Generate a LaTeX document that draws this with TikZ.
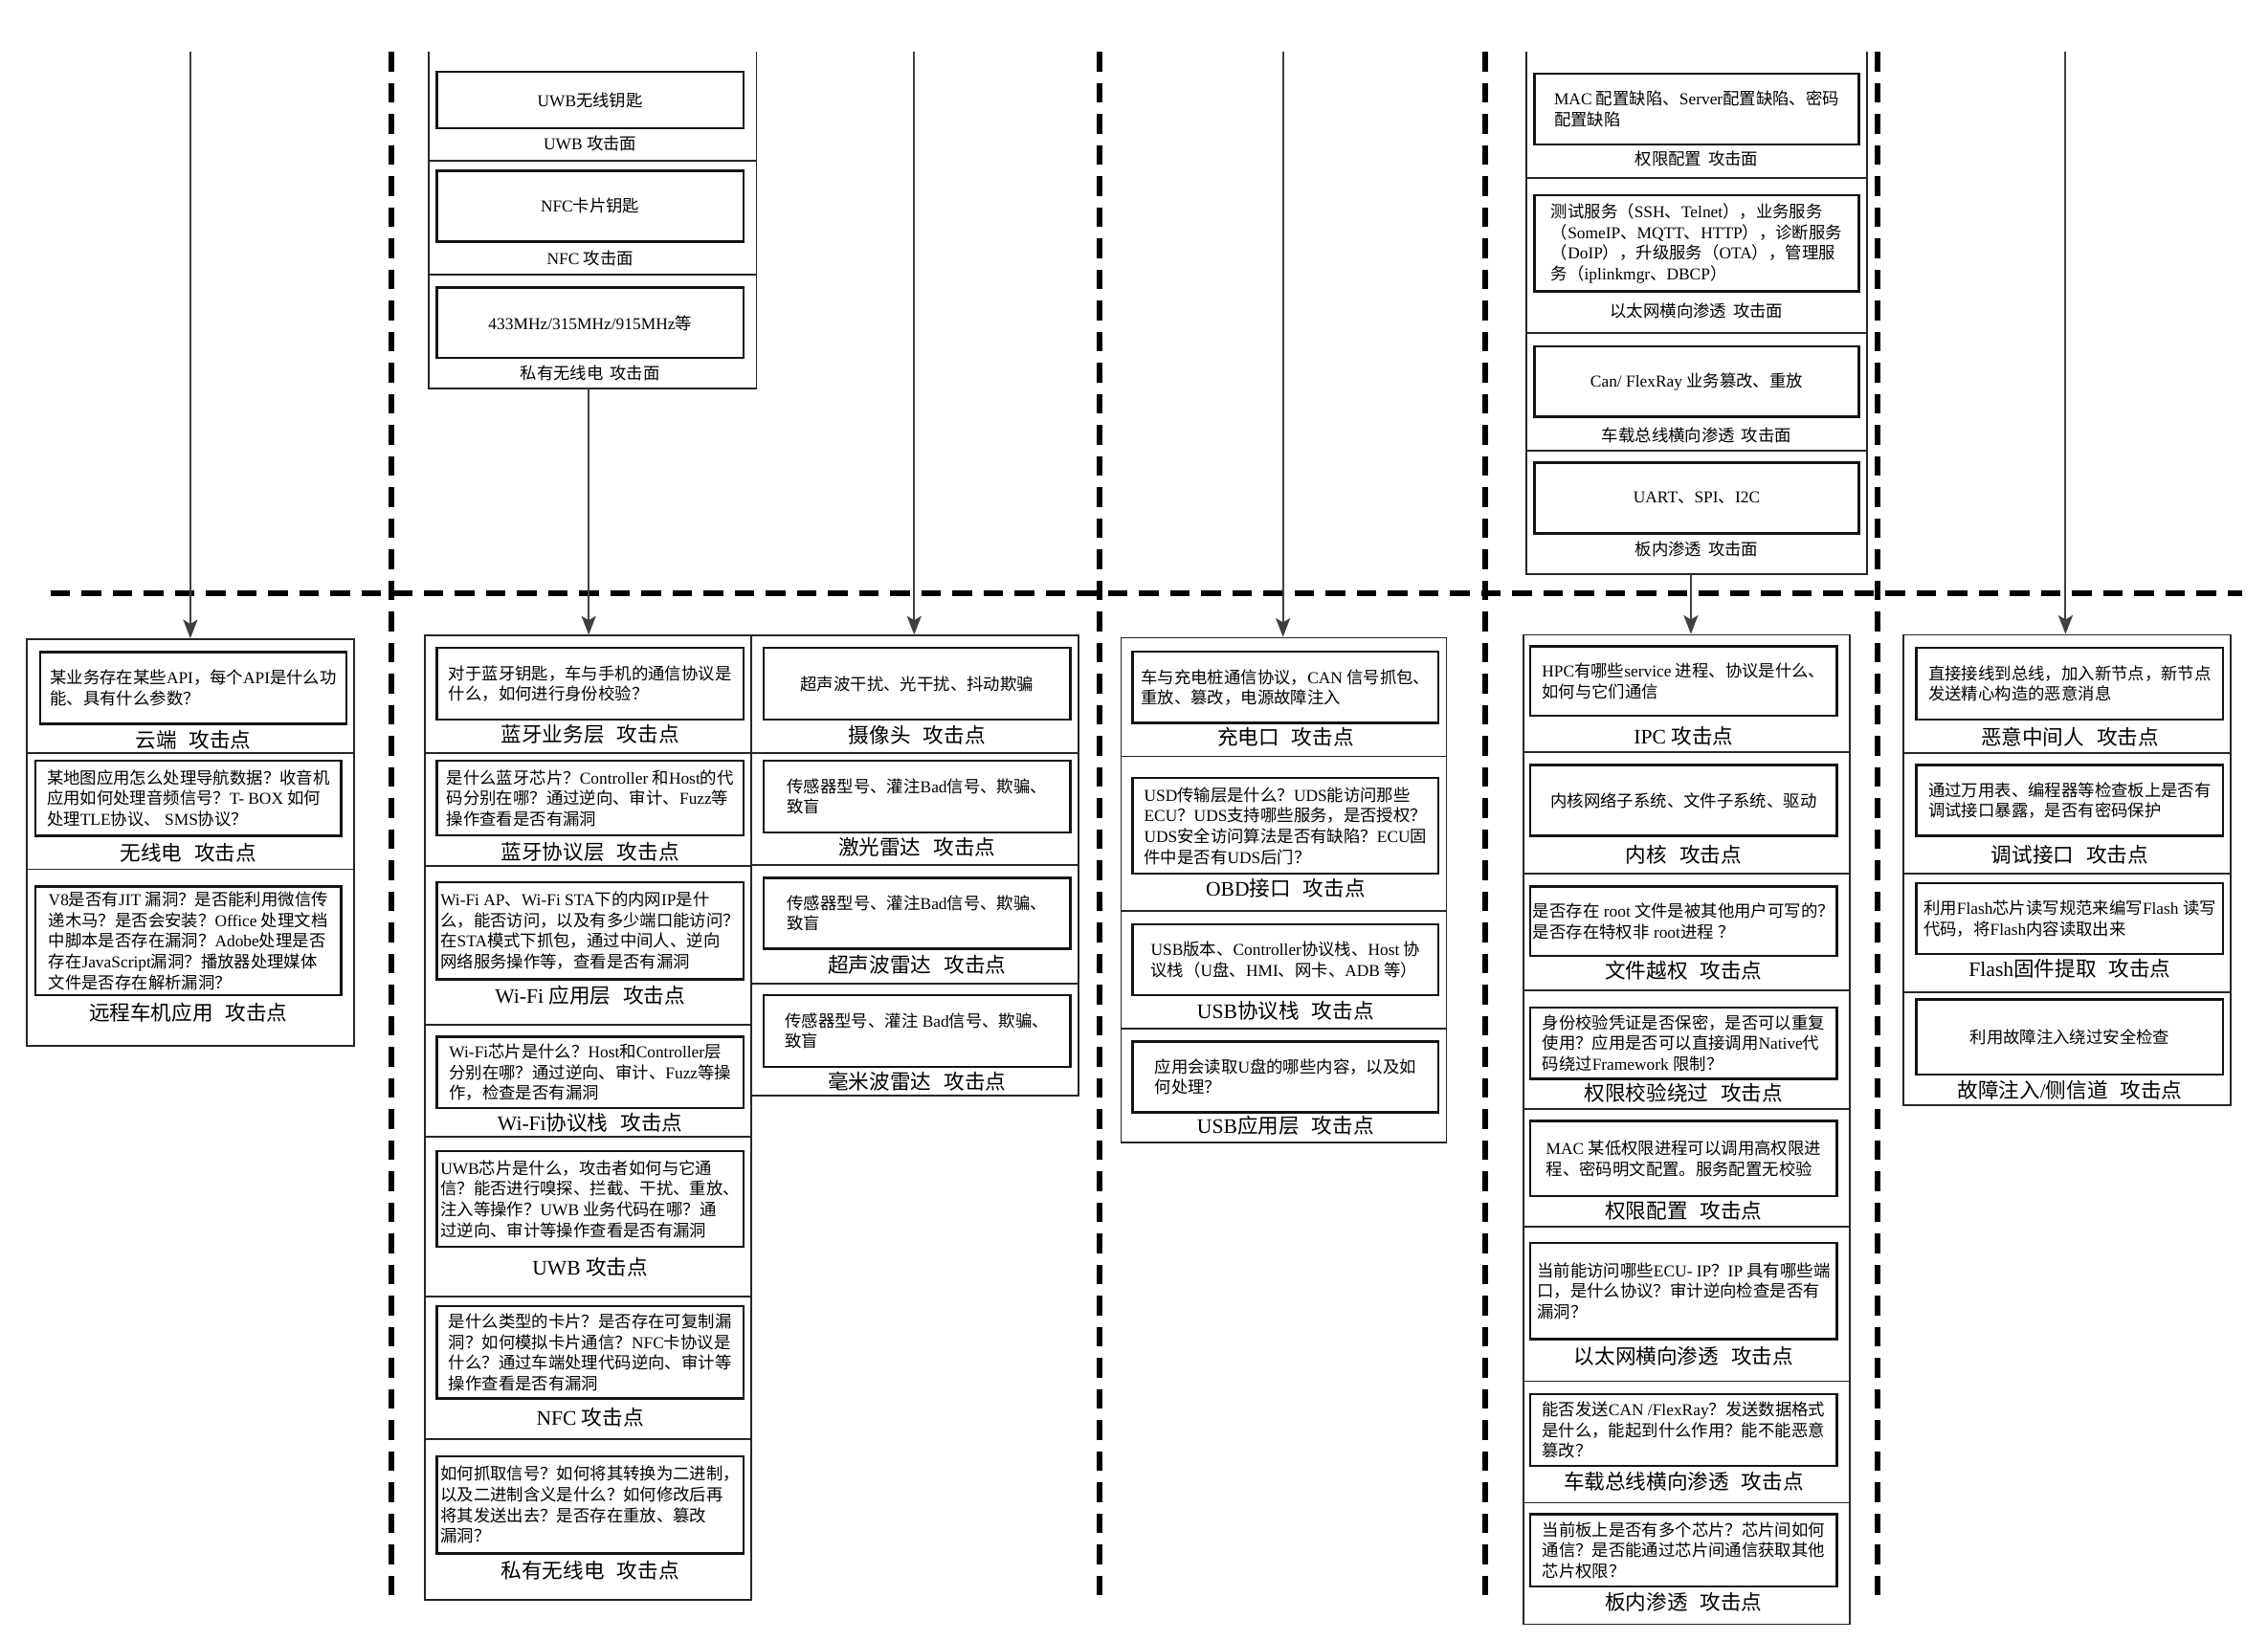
\documentclass[tikz,border=0pt]{standalone}
\usepackage{fontspec}
\setmainfont{Liberation Serif}
\newfontfamily\cjkfont{Noto Sans CJK SC}
\usetikzlibrary{arrows.meta}

% switch to the CJK family for ideographs and full-width punctuation
\XeTeXinterchartokenstate=1
\newXeTeXintercharclass\cjkcls
\newcount\cjkcnt
\def\cjkrange#1#2{\cjkcnt=#1\relax
  \loop\XeTeXcharclass\cjkcnt=\cjkcls\relax
  \ifnum\cjkcnt<#2\relax\advance\cjkcnt by 1\relax\repeat}
\cjkrange{"4E00}{"9FFF}
\cjkrange{"3000}{"303F}
\cjkrange{"FF00}{"FFEF}
\XeTeXinterchartoks 0 \cjkcls = {\cjkfont}
\XeTeXinterchartoks 4095 \cjkcls = {\cjkfont}
\XeTeXinterchartoks \cjkcls 0 = {\rmfamily}
\XeTeXinterchartoks \cjkcls 4095 = {\rmfamily}

\newcommand\lgap{\hspace{0.6em}}
\newcommand\sgap{\hspace{0.4em}}

\tikzset{
  outbx/.style={draw=black!85, line width=1.2pt, inner sep=0pt},
  inbx/.style={draw=black!92, line width=1.7pt, inner sep=1pt, align=left,
    font=\fontsize{11.5}{14.3}\selectfont},
  lbl/.style={inner sep=0pt, font=\fontsize{14.3}{17}\selectfont},
  tlbl/.style={inner sep=0pt, font=\fontsize{11.5}{14}\selectfont},
  sepl/.style={draw=black!85, line width=1.2pt},
  divl/.style={draw=black, line width=4pt, dash pattern=on 13.5pt off 8pt},
  arr/.style={draw=black!75, line width=1.3pt,
    -{Stealth[length=13pt,width=10pt,inset=3pt]}},
}

% outer frame: name, x1, x2, y1, y2
\newcommand\obox[5]{\node[outbx, minimum width={#3-#2}, minimum height={#5-#4}]
  (#1) at ({(#2+#3)/2},{(#4+#5)/2}) {};}
% row divider: x1, x2, y
\newcommand\cellsep[3]{\draw[sepl] (#1,#3) -- (#2,#3);}
% framed text with its caption: [caption style] name, x1, x2, y1, y2, caption y, text, caption
\newcommand\cell[9][lbl]{%
  \node[inbx, minimum width={#4-#3}, minimum height={#6-#5}]
    (#2) at ({(#3+#4)/2},{(#5+#6)/2}) {#8};
  \node[#1] (#2l) at ({(#3+#4)/2},#7) {#9};}

\begin{document}
\begin{tikzpicture}[x=1pt,y=-1pt]
\useasboundingbox (0,0) rectangle (1568,1134);

% dividers between the groups
\foreach \xx in {270.6,760,1027,1298} {\draw[divl] (\xx,36) -- (\xx,1108);}
\draw[divl] (35,410) -- (1550,410);

% ---------- upper panel: wireless keys ----------
\draw[sepl] (296.5,35.7) -- (296.5,268.6) -- (523,268.6) -- (523,35.7);
\cellsep{296.5}{523}{111}
\cellsep{296.5}{523}{190}
\cell[tlbl]{tA1}{302}{514}{49.6}{88.7}{99}{UWB无线钥匙}{UWB 攻击面}
\cell[tlbl]{tA2}{302}{514}{118}{167}{178.6}{NFC卡片钥匙}{NFC 攻击面}
\cell[tlbl]{tA3}{302}{514}{199}{247.5}{258}{433MHz/315MHz/915MHz等}{私有无线电\sgap 攻击面}

% ---------- upper panel: lateral movement ----------
\draw[sepl] (1055,35.7) -- (1055,397) -- (1291,397) -- (1291,35.7);
\cellsep{1055}{1291}{123}
\cellsep{1055}{1291}{230}
\cellsep{1055}{1291}{311.6}
\cell[tlbl]{tB1}{1061}{1285}{51}{100}{110}{\fontsize{11.5}{16.5}\selectfont MAC 配置缺陷、Server配置缺陷、密码\\配置缺陷}{权限配置\sgap 攻击面}
\cell[tlbl]{tB2}{1061}{1285}{135}{201.6}{215}{测试服务（SSH、Telnet），业务服务\\（SomeIP、MQTT、HTTP），诊断服务\\（DoIP），升级服务（OTA），管理服\\务（iplinkmgr、DBCP）}{以太网横向渗透\sgap 攻击面}
\cell[tlbl]{tB3}{1061}{1285}{239.5}{288}{301}{Can/ FlexRay 业务篡改、重放}{车载总线横向渗透\sgap 攻击面}
\cell[tlbl]{tB4}{1061}{1285}{320}{369}{380}{UART、SPI、I2C}{板内渗透\sgap 攻击面}

% ---------- column 1 ----------
\obox{c1}{18.5}{245}{442}{723}
\cellsep{18.5}{245}{520.6}
\cellsep{18.5}{245}{601}
\cell{c1a}{27.8}{239.5}{451}{500.6}{511.6}{某业务存在某些API，每个API是什么功\\能、具有什么参数？}{云端\lgap 攻击点}
\cell{c1b}{24.4}{236}{526}{578}{590}{\fontsize{11.5}{14}\selectfont 某地图应用怎么处理导航数据？收音机\\应用如何处理音频信号？T- BOX 如何\\处理TLE协议、 SMS协议？}{无线电\lgap 攻击点}
\cell{c1c}{24.4}{236}{613}{688}{700}{\fontsize{11.5}{13.6}\selectfont V8是否有JIT 漏洞？是否能利用微信传\\递木马？是否会安装？Office 处理文档\\中脚本是否存在漏洞？Adobe处理是否\\存在JavaScript漏洞？播放器处理媒体\\文件是否存在解析漏洞？}{远程车机应用\lgap 攻击点}

% ---------- column 2 ----------
\obox{c2}{294}{519.5}{439.5}{1106}
\foreach \yy in {520.7,599,708.6,786,896.5,995} {\cellsep{294}{519.5}{\yy}}
\cell{c2a}{302}{514}{448}{497.5}{508}{对于蓝牙钥匙，车与手机的通信协议是\\什么，如何进行身份校验？}{蓝牙业务层\lgap 攻击点}
\cell{c2b}{302}{514}{526}{577.7}{589}{是什么蓝牙芯片？Controller 和Host的代\\码分别在哪？通过逆向、审计、Fuzz等\\操作查看是否有漏洞}{蓝牙协议层\lgap 攻击点}
\cell{c2c}{302}{514}{610}{677}{688}{\fontsize{11.5}{13.7}\selectfont Wi-Fi AP、Wi-Fi STA下的内网IP是什\\么，能否访问，以及有多少端口能访问？\\在STA模式下抓包，通过中间人、逆向\\网络服务操作等，查看是否有漏洞}{Wi-Fi 应用层\lgap 攻击点}
\cell{c2d}{302}{514}{717}{766}{776}{\fontsize{11.5}{13.2}\selectfont Wi-Fi芯片是什么？Host和Controller层\\分别在哪？通过逆向、审计、Fuzz等操\\作，检查是否有漏洞}{Wi-Fi协议栈\lgap 攻击点}
\cell{c2e}{302}{514}{796}{862}{876}{UWB芯片是什么，攻击者如何与它通\\信？能否进行嗅探、拦截、干扰、重放、\\注入等操作？UWB 业务代码在哪？通\\过逆向、审计等操作查看是否有漏洞}{UWB 攻击点}
\cell{c2f}{302}{514}{903}{967}{980}{是什么类型的卡片？是否存在可复制漏\\洞？如何模拟卡片通信？NFC卡协议是\\什么？通过车端处理代码逆向、审计等\\操作查看是否有漏洞}{NFC 攻击点}
\cell{c2g}{302}{514}{1007}{1074}{1086}{如何抓取信号？如何将其转换为二进制，\\以及二进制含义是什么？如何修改后再\\将其发送出去？是否存在重放、篡改\\漏洞？}{私有无线电\lgap 攻击点}

% ---------- column 3 ----------
\obox{c3}{519.5}{745.6}{439.5}{757.5}
\foreach \yy in {520.5,598,680} {\cellsep{519.5}{745.6}{\yy}}
\cell{c3a}{528}{740}{448}{497.5}{508}{超声波干扰、光干扰、抖动欺骗}{摄像头\lgap 攻击点}
\cell{c3b}{528}{740}{526}{575.6}{585.5}{传感器型号、灌注Bad信号、欺骗、\\致盲}{激光雷达\lgap 攻击点}
\cell{c3c}{528}{740}{607}{656}{667}{传感器型号、灌注Bad信号、欺骗、\\致盲}{超声波雷达\lgap 攻击点}
\cell{c3d}{528}{740}{688}{737.6}{747.6}{传感器型号、灌注 Bad信号、欺骗、\\致盲}{毫米波雷达\lgap 攻击点}

% ---------- column 4 ----------
\obox{c4}{775}{1000}{441}{790}
\foreach \yy in {523,630,711} {\cellsep{775}{1000}{\yy}}
\cell{c4a}{783}{994.5}{450.6}{500}{509.5}{车与充电桩通信协议，CAN 信号抓包、\\重放、篡改，电源故障注入}{充电口\lgap 攻击点}
\cell{c4b}{783}{994.5}{538}{604}{614}{USD传输层是什么？UDS能访问那些\\ECU？UDS支持哪些服务，是否授权？\\UDS安全访问算法是否有缺陷？ECU固\\件中是否有UDS后门？}{OBD接口\lgap 攻击点}
\cell{c4c}{783}{994.5}{639}{688}{699}{USB版本、Controller协议栈、Host 协\\议栈（U盘、HMI、网卡、ADB 等）}{USB协议栈\lgap 攻击点}
\cell{c4d}{783}{994.5}{720}{769}{778}{应用会读取U盘的哪些内容，以及如\\何处理？}{USB应用层\lgap 攻击点}

% ---------- column 5 ----------
\obox{c5}{1053}{1279}{439}{1123}
\foreach \yy in {520,604,685,767,848,955,1039} {\cellsep{1053}{1279}{\yy}}
\cell{c5a}{1058}{1270}{447}{495}{509}{HPC有哪些service 进程、协议是什么、\\如何与它们通信}{IPC 攻击点}
\cell{c5b}{1058}{1270}{529}{578}{591}{内核网络子系统、文件子系统、驱动}{内核\lgap 攻击点}
\cell{c5c}{1058}{1270}{613}{661}{671}{是否存在 root 文件是被其他用户可写的？\\是否存在特权非 root进程 ？}{文件越权\lgap 攻击点}
\cell{c5d}{1058}{1270}{696.6}{746}{756}{身份校验凭证是否保密，是否可以重复\\使用？应用是否可以直接调用Native代\\码绕过Framework 限制？}{权限校验绕过\lgap 攻击点}
\cell{c5e}{1058}{1270}{775}{827}{837}{MAC 某低权限进程可以调用高权限进\\程、密码明文配置。服务配置无校验}{权限配置\lgap 攻击点}
\cell{c5f}{1058}{1270}{859.4}{926}{938}{\fontsize{11.5}{13.2}\selectfont 当前能访问哪些ECU- IP？IP 具有哪些端\\口，是什么协议？审计逆向检查是否有\\漏洞？}{以太网横向渗透\lgap 攻击点}
\cell{c5g}{1058}{1270}{964}{1013.5}{1024}{能否发送CAN /FlexRay？发送数据格式\\是什么，能起到什么作用？能不能恶意\\篡改？}{车载总线横向渗透\lgap 攻击点}
\cell{c5h}{1058}{1270}{1047}{1097}{1108}{\fontsize{11.5}{13.5}\selectfont 当前板上是否有多个芯片？芯片间如何\\通信？是否能通过芯片间通信获取其他\\芯片权限？}{板内渗透\lgap 攻击点}

% ---------- column 6 ----------
\obox{c6}{1316}{1542}{439}{764}
\foreach \yy in {520.6,604,686} {\cellsep{1316}{1542}{\yy}}
\cell{c6a}{1325}{1537}{448}{497.5}{509.5}{直接接线到总线，加入新节点，新节点\\发送精心构造的恶意消息}{恶意中间人\lgap 攻击点}
\cell{c6b}{1325}{1537}{529}{578}{591}{通过万用表、编程器等检查板上是否有\\调试接口暴露，是否有密码保护}{调试接口\lgap 攻击点}
\cell{c6c}{1325}{1537}{610.6}{659.6}{670}{利用Flash芯片读写规范来编写Flash 读写\\代码，将Flash内容读取出来}{Flash固件提取\lgap 攻击点}
\cell{c6d}{1325}{1537}{691}{743}{754}{利用故障注入绕过安全检查}{故障注入/侧信道\lgap 攻击点}

% ---------- connectors ----------
\coordinate (s1) at (131.6,35.7);
\coordinate (s2) at (407,268.6);
\coordinate (s3) at (632,35.7);
\coordinate (s4) at (887,35.7);
\coordinate (s5) at (1169,397);
\coordinate (s6) at (1428,35.7);
\draw[arr] (s1) -- (s1 |- c1.north);
\draw[arr] (s2) -- (s2 |- c2.north);
\draw[arr] (s3) -- (s3 |- c3.north);
\draw[arr] (s4) -- (s4 |- c4.north);
\draw[arr] (s5) -- (s5 |- c5.north);
\draw[arr] (s6) -- (s6 |- c6.north);
\end{tikzpicture}
\end{document}
